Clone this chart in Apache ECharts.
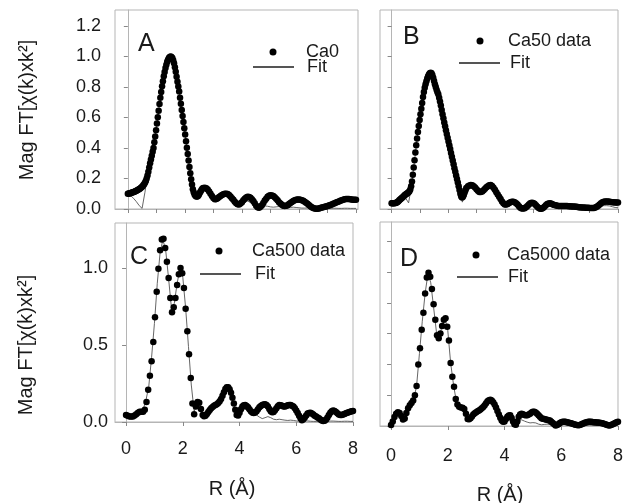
<!DOCTYPE html>
<html>
<head>
<meta charset="utf-8">
<script src="https://cdn.jsdelivr.net/npm/echarts@6/dist/echarts.min.js"></script>
<style>
html, body { margin: 0; padding: 0; background: #fff; }
#chart { width: 626px; height: 503px; }
</style>
</head>
<body>
<div id="chart"></div>
<script>
// EXAFS Fourier transform magnitudes, four samples (A-D), data + fit

var names = ['Ca0', 'Ca50 data', 'Ca500 data', 'Ca5000 data'];
var letters = ['A', 'B', 'C', 'D'];

// data: fine part from R=0 (step 0.03 for A/B, 0.06 for C/D), tail from R=2.7 step 0.05
var caA_fine = [
  .100,.101,.102,.104,.106,.108,.110,.112,.115,.117,
  .120,.123,.126,.129,.133,.137,.142,.148,.155,.163,
  .172,.184,.200,.220,.245,.272,.300,.325,.350,.375,
  .400,.437,.475,.517,.560,.602,.645,.688,.730,.768,
  .805,.838,.870,.898,.925,.946,.965,.979,.990,.997,
  1.000,.997,.990,.975,.955,.929,.900,.868,.835,.803,
  .770,.730,.690,.650,.610,.570,.530,.488,.445,.402,
  .360,.318,.275,.234,.195,.160,.130,.110,.095,.087,
  .082,.082,.085,.094,.105,.115,.125,.132,.138
];
var caA_tail = [
  .140,.136,.128,.115,.100,.085,.072,.064,.065,.071,
  .078,.086,.092,.097,.100,.100,.098,.091,.082,.071,
  .060,.048,.038,.031,.030,.036,.045,.057,.068,.076,
  .080,.079,.074,.064,.052,.037,.022,.012,.008,.014,
  .025,.040,.055,.068,.080,.087,.090,.089,.085,.077,
  .068,.057,.045,.036,.028,.022,.020,.021,.025,.032,
  .040,.046,.052,.057,.060,.062,.062,.061,.058,.054,
  .048,.041,.034,.026,.018,.011,.006,.003,.002,.002,
  .004,.007,.010,.012,.015,.017,.020,.023,.026,.030,
  .034,.038,.042,.046,.050,.054,.058,.061,.064,.065,
  .066,.065,.064,.062,.061,.060,.060
];
var fitA = [
  .100,.088,.070,.048,.022,.004,.110,.230,.320,.405,
  .530,.675,.805,.905,.975,1.00,.968,.880,.770,.640,
  .500,.360,.220,.115,.070,.090,.122,.132,.118,.088,
  .055,.045,.065,.082,.090,.086,.068,.045,.025,.020,
  .032,.048,.052,.042,.025,.010,.008,.014,.020,.018,
  .014,.012,.014,.016,.014,.010,.008,.010,.012,.010,
  .008,.006,.006,.007,.006,.004,.003,.004,.005,.005,
  .004,.004,.005,.005,.004,.004,.005,.005,.004,.004,
  .004
];

var caB_fine = [
  .037,.037,.038,.038,.039,.040,.042,.046,.051,.057,
  .062,.067,.072,.077,.082,.088,.093,.097,.101,.105,
  .110,.117,.128,.150,.180,.225,.272,.320,.370,.418,
  .462,.505,.545,.584,.622,.658,.695,.735,.768,.795,
  .818,.838,.855,.870,.882,.890,.893,.890,.878,.860,
  .840,.818,.800,.782,.766,.752,.730,.705,.678,.650,
  .622,.595,.568,.542,.517,.492,.467,.443,.418,.393,
  .368,.343,.318,.293,.268,.244,.220,.196,.173,.150,
  .125,.100,.082,.075,.080,.092,.108,.123,.137
];
var caB_tail = [
  .150,.154,.157,.156,.150,.141,.130,.119,.112,.111,
  .115,.123,.132,.142,.150,.155,.157,.151,.140,.126,
  .110,.095,.080,.065,.050,.038,.030,.029,.032,.039,
  .045,.048,.048,.044,.038,.029,.018,.009,.004,.003,
  .005,.011,.020,.030,.038,.041,.040,.034,.025,.015,
  .006,.002,.002,.007,.015,.024,.032,.036,.037,.034,
  .030,.027,.024,.022,.020,.020,.020,.020,.020,.020,
  .019,.018,.018,.017,.017,.016,.015,.014,.012,.011,
  .010,.010,.010,.009,.009,.008,.007,.006,.006,.007,
  .010,.015,.022,.030,.038,.044,.048,.050,.050,.049,
  .048,.046,.045,.044,.043,.042,.042
];
var fitB = [
  .037,.038,.042,.055,.068,.070,.040,.150,.300,.460,
  .600,.720,.815,.875,.890,.840,.780,.715,.620,.535,
  .450,.370,.285,.200,.110,.045,.100,.135,.145,.140,
  .120,.105,.108,.125,.145,.150,.135,.105,.075,.045,
  .028,.030,.042,.045,.035,.016,.004,.005,.018,.033,
  .035,.022,.006,.003,.012,.026,.030,.026,.020,.016,
  .015,.015,.014,.013,.012,.010,.008,.007,.007,.006,
  .005,.005,.006,.010,.018,.022,.022,.020,.015,.010,
  .008
];

var caC_fine = [
  .045,.040,.036,.035,.036,.042,.050,.060,.066,.066,
  .066,.080,.130,.210,.300,.395,.520,.680,.845,.995,
  1.115,1.185,1.190,1.130,1.040,.935,.805,.712,.745,.805,
  .890,.960,1.000,.965,.870,.735,.590,.440,.285,.120,
  .050,.100,.130,.125,.085
];
var caC_tail = [
  .045,.038,.040,.052,.065,.078,.090,.098,.105,.110,
  .115,.123,.135,.150,.170,.193,.215,.225,.225,.212,
  .190,.157,.120,.080,.045,.042,.060,.082,.100,.108,
  .110,.104,.095,.082,.070,.061,.058,.062,.070,.082,
  .095,.104,.110,.114,.115,.110,.100,.085,.070,.063,
  .065,.076,.090,.102,.110,.109,.105,.101,.100,.104,
  .108,.110,.110,.106,.100,.089,.075,.058,.040,.024,
  .012,.018,.030,.043,.055,.059,.060,.055,.048,.041,
  .035,.030,.025,.017,.010,.007,.008,.017,.030,.045,
  .060,.070,.075,.071,.065,.056,.048,.045,.045,.048,
  .052,.056,.060,.063,.066,.069,.072
];
var fitC = [
  .045,.035,.035,.045,.060,.062,.080,.140,.230,.420,
  .640,.900,1.100,1.185,1.110,.930,.740,.770,.900,.995,
  .940,.740,.490,.240,.070,.110,.120,.050,.040,.060,
  .085,.100,.110,.130,.165,.210,.220,.185,.115,.040,
  .050,.080,.085,.065,.045,.050,.045,.032,.022,.028,
  .035,.028,.018,.015,.018,.015,.012,.010,.012,.010,
  .007,.005,.006,.008,.007,.005,.004,.004,.005,.004,
  .004,.005,.006,.006,.005,.004,.004,.005,.005,.004,
  .004
];

var caD_fine = [
  .006,.030,.058,.080,.090,.085,.065,.042,.048,.085,
  .115,.135,.150,.165,.200,.260,.400,.505,.625,.735,
  .860,.965,.995,.970,.890,.790,.690,.590,.570,.600,
  .650,.690,.700,.645,.555,.410,.320,.255,.175,.140,
  .125,.120,.118,.110,.080
];
var caD_tail = [
  .045,.044,.050,.062,.075,.083,.090,.095,.100,.107,
  .115,.124,.135,.148,.160,.167,.170,.165,.155,.140,
  .120,.098,.075,.053,.035,.028,.030,.045,.060,.068,
  .070,.052,.030,.012,.008,.030,.060,.074,.080,.076,
  .072,.070,.070,.074,.080,.088,.093,.092,.088,.080,
  .070,.060,.050,.047,.045,.043,.040,.038,.035,.028,
  .020,.011,.004,.006,.012,.019,.025,.027,.028,.027,
  .025,.022,.020,.018,.015,.011,.008,.006,.005,.007,
  .010,.014,.018,.022,.025,.027,.028,.027,.026,.025,
  .024,.023,.022,.021,.020,.018,.015,.012,.008,.005,
  .003,.006,.010,.015,.020,.024,.028
];
var fitD = [
  .006,.050,.085,.085,.050,.055,.110,.150,.175,.260,
  .470,.680,.860,.990,.930,.770,.610,.580,.650,.700,
  .620,.410,.270,.160,.125,.118,.100,.050,.045,.070,
  .085,.095,.110,.130,.155,.165,.150,.115,.070,.030,
  .025,.045,.050,.020,.010,.035,.040,.032,.025,.020,
  .022,.020,.012,.008,.010,.012,.010,.006,.003,.005,
  .008,.008,.006,.005,.004,.004,.005,.006,.006,.005,
  .005,.005,.004,.004,.004,.004,.004,.003,.004,.005,
  .006
];

var yTicksFine = [0, 0.2, 0.4, 0.6, 0.8, 1.0, 1.2];
var yTicksC = [0, 0.5, 1.0];
var xTicksAll = [0, 1, 2, 3, 4, 5, 6, 7, 8];
var xTicksEven = [0, 2, 4, 6, 8];

function pairs(start, step, vals) {
  return vals.map(function (v, i) { return [+(start + i * step).toFixed(3), v]; });
}

var dataSets = [
  pairs(0, 0.03, caA_fine).concat(pairs(2.7, 0.05, caA_tail)),
  pairs(0, 0.03, caB_fine).concat(pairs(2.7, 0.05, caB_tail)),
  pairs(0, 0.06, caC_fine).concat(pairs(2.7, 0.05, caC_tail)),
  pairs(0, 0.06, caD_fine).concat(pairs(2.7, 0.05, caD_tail))
];
var fitSets = [pairs(0, 0.1, fitA), pairs(0, 0.1, fitB), pairs(0, 0.1, fitC), pairs(0, 0.1, fitD)];

var FONT = '"Liberation Sans", Arial, sans-serif';
var FRAME = '#b5b5b5';
var TXT = '#1a1a1a';

var dom = document.getElementById('chart');
var myChart = echarts.init(dom);

var grids = [
  { left: 115, top: 10, width: 243, height: 199 },
  { left: 380, top: 10, width: 238, height: 199 },
  { left: 115, top: 223, width: 238, height: 199 },
  { left: 380, top: 222, width: 238, height: 204 }
];
grids.forEach(function (g) { g.show = true; g.borderColor = FRAME; g.borderWidth = 1; });

var xRanges = [[-0.45, 8.07], [-0.41, 8.0], [-0.39, 8.0], [-0.39, 8.0]];
var yMax = [1.305, 1.305, 1.292, 1.325];

var xAxes = xRanges.map(function (r, i) {
  var bottom = i >= 2;
  var tv = bottom ? xTicksEven : xTicksAll;
  return {
    type: 'value', gridIndex: i, min: r[0], max: r[1],
    splitLine: { show: false },
    axisLine: { show: true, lineStyle: { color: FRAME } },
    axisTick: { show: true, customValues: tv, length: 4, lineStyle: { color: '#888' } },
    axisLabel: {
      show: bottom, customValues: xTicksEven, margin: i === 2 ? 18 : 21,
      fontSize: 18, fontFamily: FONT, color: TXT
    }
  };
});

var yAxes = yMax.map(function (m, i) {
  var tv = i === 2 ? yTicksC : yTicksFine;
  return {
    type: 'value', gridIndex: i, min: 0, max: m,
    splitLine: { show: false },
    axisLine: { show: true, lineStyle: { color: FRAME } },
    axisTick: { show: true, customValues: tv, length: 4, lineStyle: { color: '#888' } },
    axisLabel: {
      show: i === 0 || i === 2, customValues: tv, margin: i === 0 ? 14 : 7,
      fontSize: 18, fontFamily: FONT, color: TXT,
      formatter: function (v) { return v.toFixed(1); }
    }
  };
});

var series = [];
for (var p = 0; p < 4; p++) {
  series.push({
    name: 'Fit', type: 'line', xAxisIndex: p, yAxisIndex: p,
    data: fitSets[p], symbol: 'none', silent: true, z: 2,
    itemStyle: { color: '#555', opacity: 0 },
    lineStyle: { color: '#555', width: 0.9, opacity: 1 }
  });
  series.push({
    name: names[p], type: 'scatter', xAxisIndex: p, yAxisIndex: p,
    data: dataSets[p], symbolSize: 6.5, silent: true, z: 3,
    itemStyle: { color: '#000', opacity: 1 }
  });
}

// legend rows: [data left, data centre y, data text pad, fit left, fit centre y, fit text pad]
var legPos = [
  [269.5, 52, 7.5, 252, 67, 8],
  [476.5, 41, 2.5, 458, 63, 5],
  [215.5, 251, 7.5, 199, 274, 9],
  [472.5, 255, 5.5, 456, 277, 5]
];
var legends = [];
legPos.forEach(function (lp, i) {
  legends.push({
    data: [names[i]], left: lp[0], top: lp[1] - 9, padding: 0,
    itemWidth: 41, itemHeight: 7, selectedMode: false,
    textStyle: { fontSize: 18, lineHeight: 18, fontFamily: FONT, color: TXT, padding: [0, 0, 0, lp[2]] }
  });
  legends.push({
    data: ['Fit'], left: lp[3], top: lp[4] - 9, padding: 0,
    itemWidth: 41, itemHeight: 7, selectedMode: false,
    textStyle: { fontSize: 18, lineHeight: 18, fontFamily: FONT, color: TXT, padding: [0, 0, 0, lp[5]] }
  });
});

var letterPos = [[138, 44], [403, 37], [130, 257], [400, 259]];
var graphics = letterPos.map(function (lp, i) {
  return {
    type: 'text', x: lp[0], y: lp[1], silent: true,
    style: { text: letters[i], fontSize: 25, fontFamily: FONT, fill: TXT, align: 'left', verticalAlign: 'middle' }
  };
});
[[27, 110], [26, 345]].forEach(function (pt) {
  graphics.push({
    type: 'text', x: pt[0], y: pt[1], rotation: Math.PI / 2, silent: true,
    style: { text: 'Mag FT[χ(k)xk²]', fontSize: 20, fontFamily: FONT, fill: TXT, align: 'center', verticalAlign: 'middle' }
  });
});
[[232, 489], [500, 495]].forEach(function (pt) {
  graphics.push({
    type: 'text', x: pt[0], y: pt[1], silent: true,
    style: { text: 'R (Å)', fontSize: 20, fontFamily: FONT, fill: TXT, align: 'center', verticalAlign: 'middle' }
  });
});

var option = {
  animation: false,
  backgroundColor: '#fff',
  grid: grids,
  xAxis: xAxes,
  yAxis: yAxes,
  legend: legends,
  graphic: graphics,
  series: series
};

if (option && typeof option === 'object') {
  myChart.setOption(option);
}
</script>
</body>
</html>
